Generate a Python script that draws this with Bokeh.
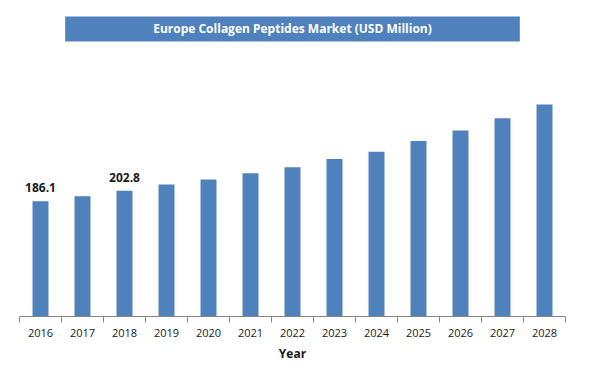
from bokeh.plotting import figure
from bokeh.models import Range1d, FixedTicker, Label, ColumnDataSource
from bokeh.embed import file_html
from bokeh.resources import INLINE
from bokeh.core.properties import value

years = ["2016", "2017", "2018", "2019", "2020", "2021", "2022",
         "2023", "2024", "2025", "2026", "2027", "2028"]
market = [186.1, 194.0, 202.8, 213.0, 221.0, 231.0, 241.0,
          254.0, 266.0, 283.0, 300.0, 320.0, 342.0]
labelled_years = ["2016", "2018"]
title_text = "Europe Collagen Peptides Market (USD Million)"

FONT = "Open Sans"
BAR = "#4F81BD"

xs = list(range(len(years)))
src = ColumnDataSource(dict(x=xs, top=market))

lx = [years.index(y) for y in labelled_years]
ly = [market[i] for i in lx]
lt = [f"{v:.1f}" for v in ly]
lsrc = ColumnDataSource(dict(x=lx, y=ly, t=lt))

p = figure(width=596, height=367, output_backend="svg", toolbar_location=None,
           x_range=Range1d(-0.5, len(years) - 0.5), y_range=Range1d(0, 497),
           min_border_left=19, min_border_right=31, min_border_top=8,
           min_border_bottom=51)
p.outline_line_color = None
p.xgrid.visible = False
p.ygrid.visible = False
p.yaxis.visible = False
p.background_fill_color = "white"
p.border_fill_color = "white"

p.vbar(x="x", top="top", bottom=0, width=0.38, source=src,
       fill_color=BAR, line_color=None)

p.text(x="x", y="y", text="t", source=lsrc, text_align="center",
       text_baseline="bottom", y_offset=-9, text_font=value(FONT),
       text_font_style="bold", text_font_size="12px", text_color="#1a1a1a")

ax = p.xaxis[0]
ax.ticker = FixedTicker(ticks=xs, minor_ticks=[i - 0.5 for i in range(len(years) + 1)])
ax.major_label_overrides = {i: y for i, y in zip(xs, years)}
ax.major_tick_out = 0
ax.major_tick_in = 0
ax.minor_tick_out = 6
ax.minor_tick_in = 0
ax.minor_tick_line_color = "#868686"
ax.axis_line_color = "#868686"
ax.major_label_text_font = FONT
ax.major_label_text_font_size = "11px"
ax.major_label_text_color = "#1a1a1a"
ax.major_label_standoff = 6
ax.axis_label = "Year"
ax.axis_label_text_font = FONT
ax.axis_label_text_font_size = "12px"
ax.axis_label_text_font_style = "bold"
ax.axis_label_text_color = "#1a1a1a"
ax.axis_label_standoff = 5

title = Label(x=(len(years) - 1) / 2, y=464, text=title_text,
              text_align="center", text_baseline="middle",
              text_font=FONT, text_font_size="12px", text_font_style="bold",
              text_color="white", background_fill_color=BAR,
              padding=(88, 4))
p.add_layout(title)

open("out.html", "w").write(file_html(p, INLINE))
